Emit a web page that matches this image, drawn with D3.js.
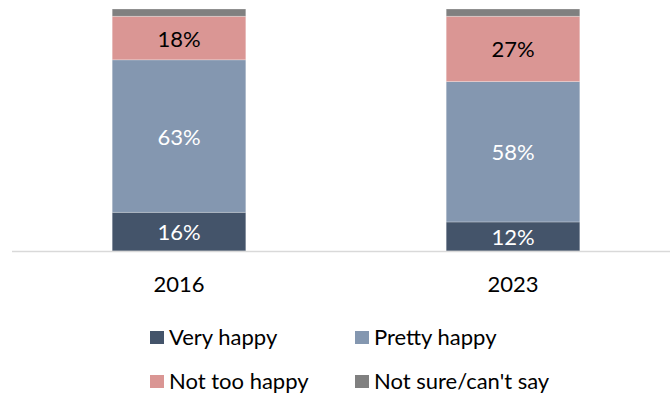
<!DOCTYPE html>
<html>
<head>
<meta charset="utf-8">
<script src="https://cdn.jsdelivr.net/npm/d3@7"></script>
<style>
  html, body { margin: 0; padding: 0; background: #fff; }
  svg { display: block; font-family: Lato, "Open Sans", sans-serif; }
</style>
</head>
<body>
<svg id="chart" width="670" height="394"></svg>
<script>
// Survey years
const years = ["2016", "2023"];

// Share of respondents per answer (percent)
const veryHappy   = [16, 12];
const prettyHappy = [63, 58];
const notTooHappy = [18, 27];
const notSure     = [3, 3];

const seriesNames  = ["Very happy", "Pretty happy", "Not too happy", "Not sure/can't say"];
const seriesValues = [veryHappy, prettyHappy, notTooHappy, notSure];
const seriesColors = ["#44546a", "#8497b0", "#da9694", "#808080"];
const labelColors  = ["#ffffff", "#ffffff", "#000000", null];

const FONT_SIZE = 22;

const svg = d3.select("#chart");

const x = d3.scaleBand().domain(years).range([12, 680]).paddingInner(0.6).paddingOuter(0.3);
const y = d3.scaleLinear().domain([0, 100]).range([251, 9]);

// Stack the series bottom-up
const rows = years.map((yr, i) => {
  const r = { year: yr };
  seriesNames.forEach((n, k) => { r[n] = seriesValues[k][i]; });
  return r;
});
const stacked = d3.stack().keys(seriesNames)(rows);

const layers = svg.append("g").selectAll("g")
  .data(stacked)
  .join("g")
  .attr("fill", (d, i) => seriesColors[i]);

layers.selectAll("rect")
  .data(d => d)
  .join("rect")
  .attr("x", d => x(d.data.year))
  .attr("width", x.bandwidth())
  .attr("y", d => y(d[1]))
  .attr("height", d => y(d[0]) - y(d[1]))
  .attr("stroke", "#ffffff")
  .attr("stroke-opacity", 0.35)
  .attr("stroke-width", 0.75);

// Value labels centred in each segment
stacked.forEach((layer, k) => {
  if (!labelColors[k]) return;
  svg.append("g").selectAll("text")
    .data(layer)
    .join("text")
    .attr("x", d => x(d.data.year) + x.bandwidth() / 2)
    .attr("y", d => (y(d[0]) + y(d[1])) / 2 + 8.5)
    .attr("text-anchor", "middle")
    .attr("font-size", FONT_SIZE)
    .attr("fill", labelColors[k])
    .text(d => (d[1] - d[0]) + "%");
});

// Category axis: baseline only, no ticks
const xAxis = svg.append("g")
  .attr("transform", `translate(0,${y(0)})`)
  .call(d3.axisBottom(x).tickSize(0).tickPadding(25));
xAxis.select(".domain").attr("stroke", "#d9d9d9").attr("stroke-width", 1.5)
  .attr("d", "M12,0.5H670");
xAxis.selectAll("text")
  .attr("font-family", "Lato, 'Open Sans', sans-serif")
  .attr("font-size", FONT_SIZE)
  .attr("fill", "#000");

// Legend, two columns by two rows
const legendPos = [[150, 345], [355, 345], [150, 389], [355, 389]];
const legend = svg.append("g").selectAll("g")
  .data(seriesNames)
  .join("g")
  .attr("transform", (d, i) => `translate(${legendPos[i][0]},${legendPos[i][1]})`);
legend.append("rect")
  .attr("x", 0).attr("y", -14)
  .attr("width", 14).attr("height", 13)
  .attr("fill", (d, i) => seriesColors[i]);
legend.append("text")
  .attr("x", 19).attr("y", 0)
  .attr("font-size", FONT_SIZE)
  .attr("fill", "#000")
  .text(d => d);
</script>
</body>
</html>
